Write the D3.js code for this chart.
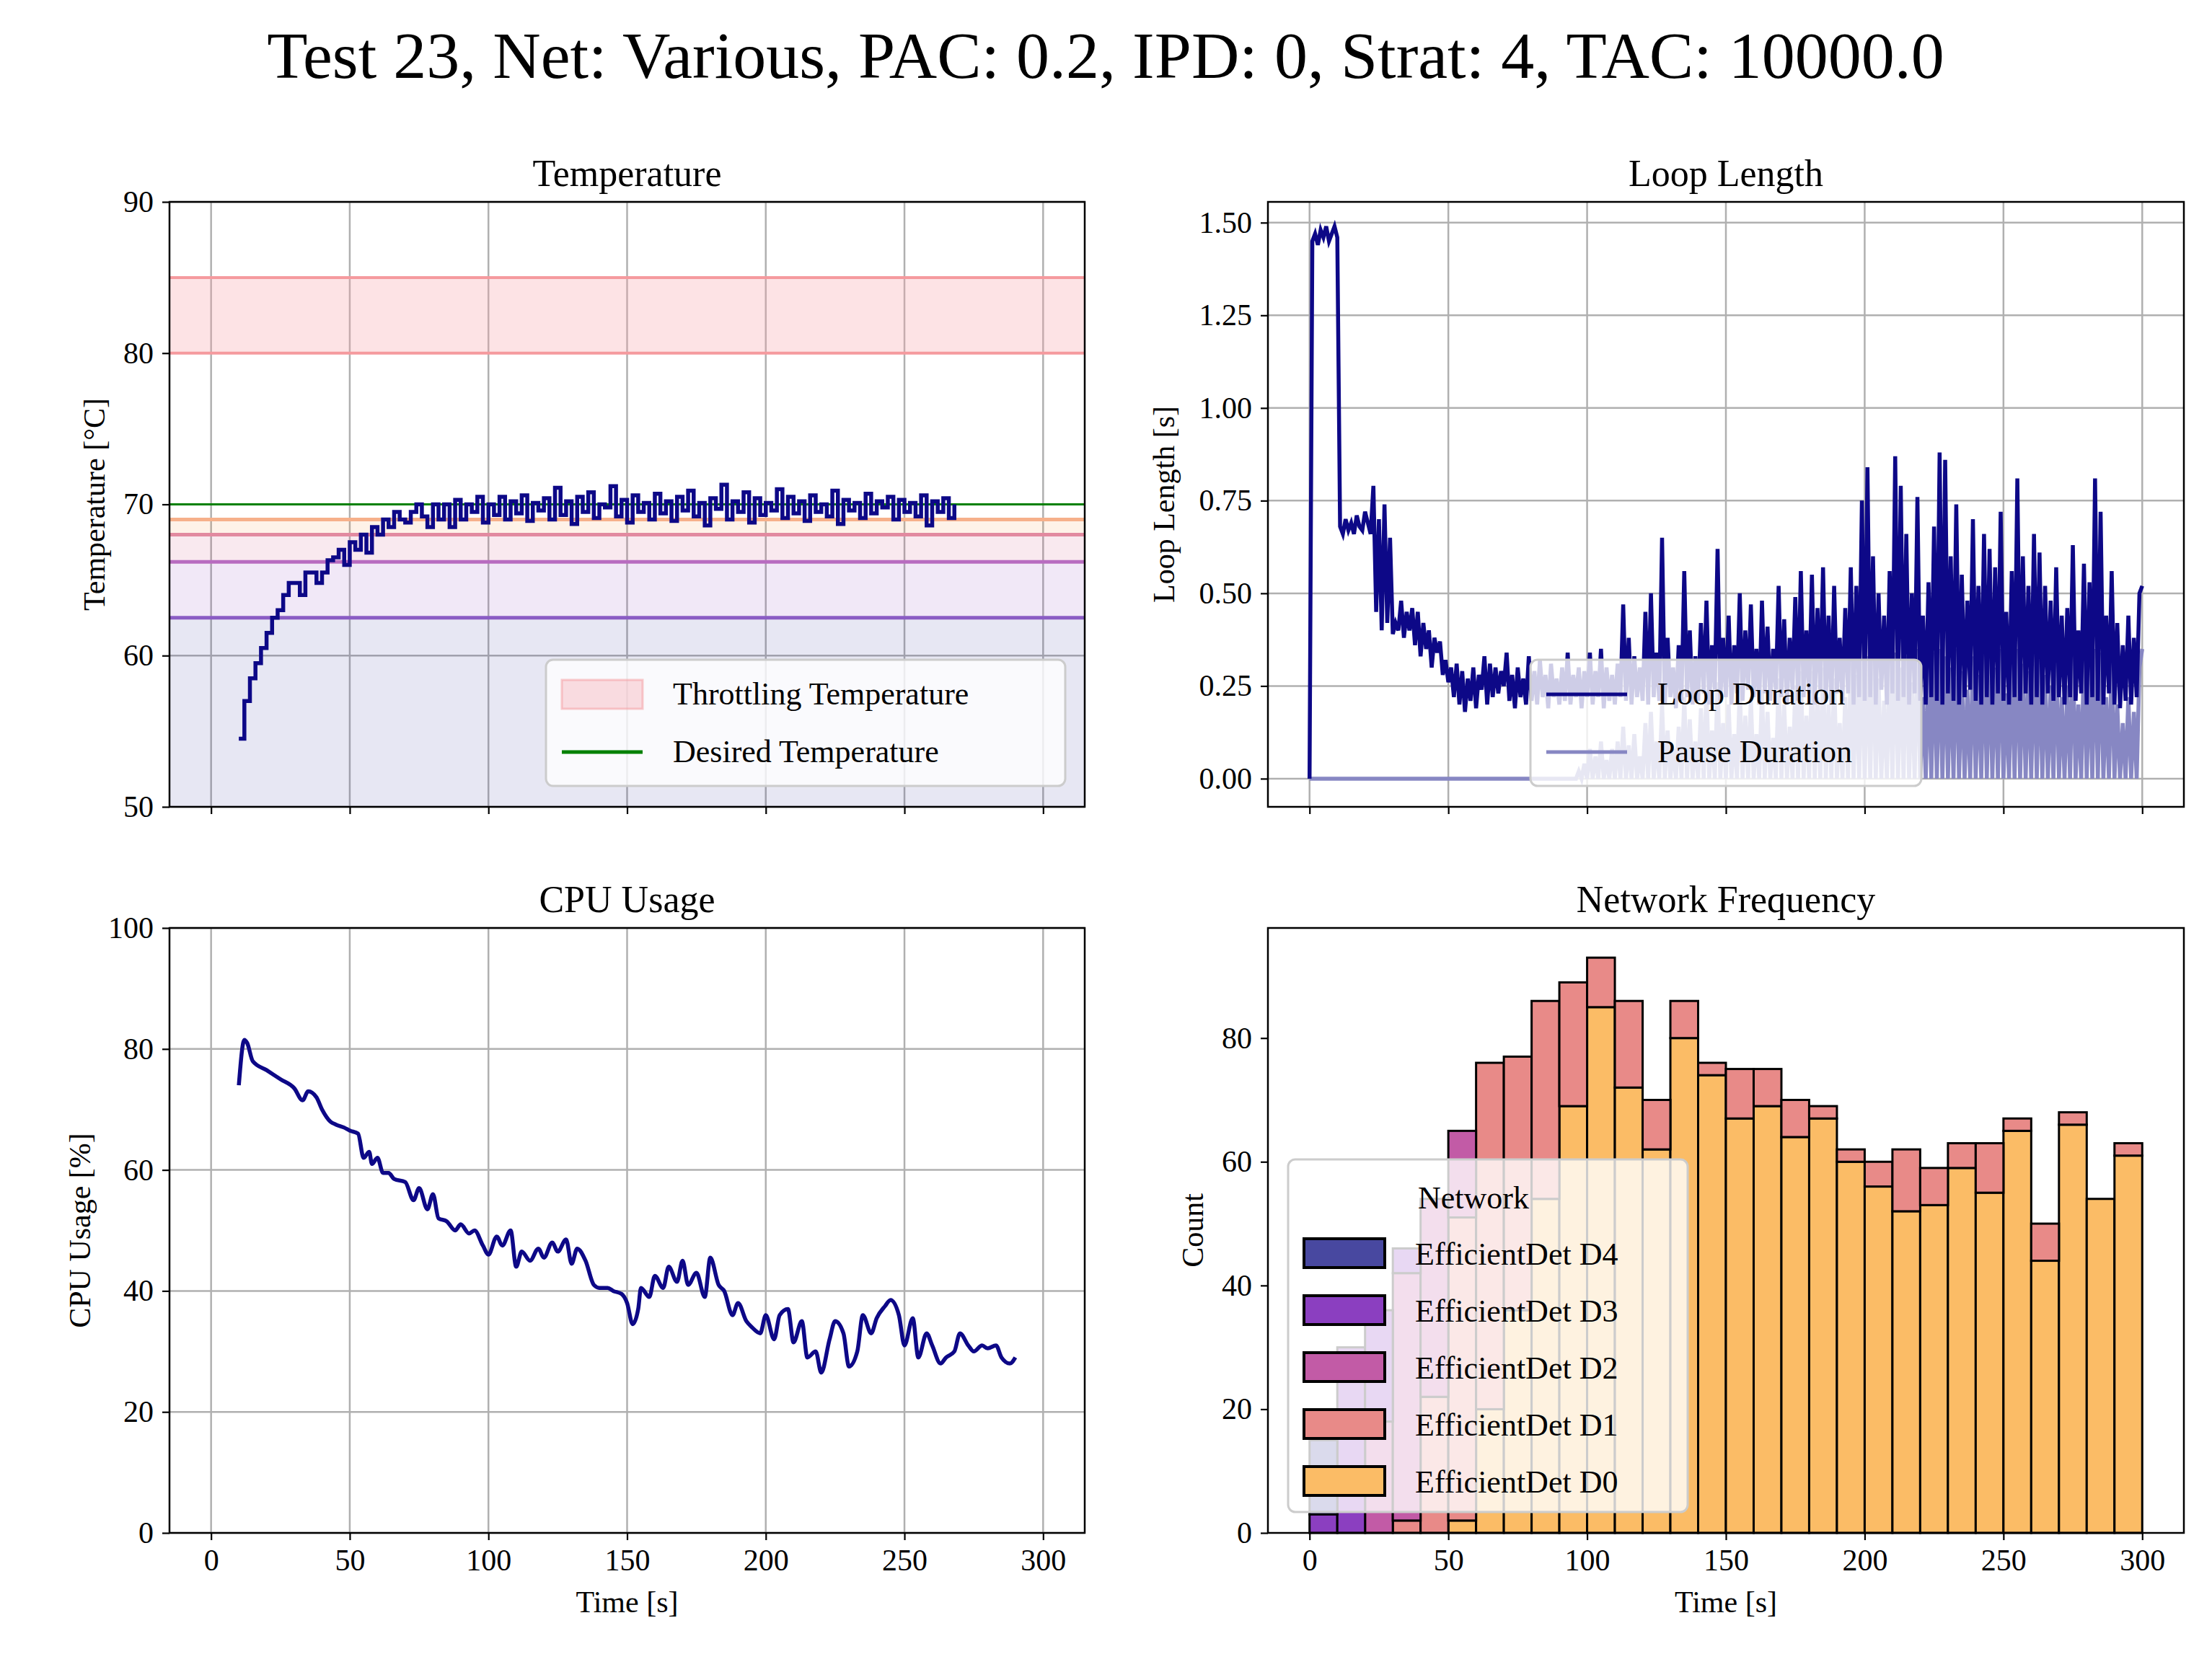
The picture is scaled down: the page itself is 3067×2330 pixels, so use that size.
<!DOCTYPE html>
<html><head><meta charset="utf-8">
<script src="https://cdn.jsdelivr.net/npm/d3@7.8.5/dist/d3.min.js"></script>
<style>body{margin:0;background:#fff}text{font-family:"Liberation Serif","DejaVu Serif",serif}</style>
</head><body><svg id="chart" width="3067" height="2330"></svg>
<script>
const tempTime0 = 10, tempStep = 2;
const tempValues = [54.5,57,58.5,59.5,60.5,61.5,62.5,63,64,64.8,64.8,64,65.5,65.5,64.8,65.5,66.3,66.5,67,66,67.5,67,68,66.8,68.5,68,69,68.5,69.5,69,68.8,69.5,70,69.2,68.5,70,69,70,68.5,70.3,69,70,69.5,70.5,68.8,70,69.3,70.5,69,70.2,
69.4,70.6,68.9,70.1,69.6,70.4,69,71.1,69.3,70.2,68.7,70.5,69.5,70.8,69.1,70,69.8,71.2,69.2,70.3,68.8,70.6,69.5,70.1,69,70.7,69.4,70.2,68.9,70.5,69.6,70.9,69.2,70.1,68.6,70.4,69.7,71.3,69,70.2,69.5,70.8,68.8,70.4,69.3,70.1,69.6,71,69.1,70.5,
69.4,70.2,68.9,70.6,69.5,70,69.2,70.9,68.7,70.3,69.6,70.1,69.1,70.7,69.4,70.2,69.8,70.5,69,70.3,69.5,70.1,69.2,70.6,68.6,70.2,69.5,70.4,69.1,70];
const loopTime0 = 0;
const loopValues = [0,1.45,1.47,1.44,1.48,1.46,1.49,1.45,1.47,1.49,1.46,
0.68,0.66,0.70,0.67,0.69,0.66,0.71,0.68,0.67,0.72,
0.69,0.66,0.79,0.45,0.70,0.40,0.74,0.42,0.65,0.39,
0.42,0.40,0.48,0.38,0.45,0.40,0.46,0.36,0.45,0.33,
0.42,0.35,0.40,0.30,0.38,0.34,0.37,0.28,0.32,0.26,
0.30,0.22,0.31,0.20,0.29,0.18,0.27,0.21,0.30,0.19,
0.28,0.24,0.33,0.20,0.31,0.22,0.30,0.23,0.29,0.25,
0.34,0.21,0.28,0.19,0.30,0.22,0.27,0.20,0.33,0.21,
0.29,0.20,0.32,0.22,0.28,0.19,0.31,0.22,0.27,0.20,
0.30,0.21,0.34,0.20,0.28,0.22,0.30,0.19,0.29,0.22,
0.34,0.20,0.29,0.22,0.35,0.19,0.30,0.21,0.28,0.20,
0.31,0.22,0.47,0.21,0.38,0.20,0.33,0.22,0.30,0.21,
0.45,0.20,0.50,0.22,0.34,0.21,0.65,0.20,0.38,0.22,
0.30,0.19,0.36,0.21,0.56,0.22,0.40,0.20,0.33,0.21,
0.42,0.23,0.48,0.20,0.36,0.24,0.62,0.21,0.38,0.22,
0.44,0.20,0.36,0.23,0.50,0.21,0.40,0.24,0.47,0.22,
0.35,0.20,0.48,0.23,0.41,0.21,0.35,0.24,0.52,0.22,
0.43,0.20,0.38,0.24,0.49,0.21,0.56,0.22,0.40,0.23,
0.55,0.20,0.46,0.24,0.57,0.21,0.44,0.20,0.52,0.23,
0.38,0.21,0.46,0.23,0.57,0.20,0.52,0.22,0.75,0.21,
0.84,0.22,0.60,0.20,0.50,0.24,0.44,0.20,0.56,0.23,
0.87,0.21,0.79,0.22,0.66,0.20,0.50,0.23,0.76,0.21,
0.44,0.20,0.53,0.22,0.68,0.21,0.88,0.20,0.86,0.23,
0.60,0.21,0.74,0.20,0.55,0.22,0.48,0.24,0.70,0.21,
0.52,0.20,0.66,0.22,0.62,0.20,0.57,0.23,0.72,0.21,
0.45,0.20,0.56,0.22,0.81,0.21,0.60,0.23,0.52,0.20,
0.66,0.22,0.61,0.20,0.52,0.23,0.48,0.21,0.57,0.22,
0.44,0.20,0.46,0.22,0.63,0.21,0.40,0.23,0.58,0.20,
0.53,0.22,0.81,0.21,0.72,0.20,0.44,0.23,0.56,0.20,
0.42,0.19,0.36,0.21,0.44,0.20,0.38,0.22,0.50,0.52];
const pauseValues = [0,0,0,0,0,0,0,0,0,0,0,0,0,0,0,0,0,0,0,0,0,0,0,0,0,0,0,0,0,0,0,0,0,0,0,0,0,0,0,0,0,0,0,0,0,0,0,0,0,0,
0,0,0,0,0,0,0,0,0,0,0,0,0,0,0,0,0,0,0,0,0,0,0,0,0,0,0,0,0,0,0,0,0,0,0,0,0,0,0,0,0,0,0,0,0,0,
0,0.02,0,0.04,0,
0.08,0,0.06,0,0.10,0,0.05,0,0.08,0,
0.10,0,0.14,0,0.09,0,0.12,0,0.06,0,
0.15,0,0.18,0,0.10,0,0.20,0,0.13,0,
0.08,0,0.14,0,0.22,0,0.16,0,0.10,0,
0.19,0,0.24,0,0.13,0,0.26,0,0.15,0,
0.20,0,0.12,0,0.25,0,0.17,0,0.22,0,
0.12,0,0.24,0,0.18,0,0.11,0,0.27,0,
0.20,0,0.14,0,0.25,0,0.29,0,0.17,0,
0.29,0,0.22,0,0.30,0,0.20,0,0.27,0,
0.15,0,0.22,0,0.31,0,0.28,0,0.32,0,
0.33,0,0.35,0,0.27,0,0.21,0,0.31,0,
0.34,0,0.30,0,0.33,0,0.26,0,0.35,0,
0.22,0,0.31,0,0.34,0,0.35,0,0.33,0,
0.30,0,0.35,0,0.29,0,0.24,0,0.33,0,
0.28,0,0.34,0,0.33,0,0.30,0,0.35,0,
0.23,0,0.33,0,0.35,0,0.31,0,0.29,0,
0.34,0,0.32,0,0.28,0,0.25,0,0.33,0,
0.22,0,0.25,0,0.34,0,0.20,0,0.33,0,
0.30,0,0.35,0,0.34,0,0.22,0,0.32,0,
0.20,0,0.15,0,0.22,0,0.18,0,0.30,0.35];
const cpuTimes = [10,12,13,15,20,25,30,33,35,38,40,43,45,48,50,53,55,57,58,60,62,64,66,70,73,75,78,80,82,85,88,90,93,95,98,100,103,105,108,110,112,115,118,120,123,125,128,130,132,135,138,140,143,145,148,150,152,154,155,158,160,163,165,168,170,172,175,178,180,183,185,188,190,193,195,198,200,203,205,208,210,213,215,218,220,223,225,228,230,233,235,238,240,243,245,248,250,253,255,258,260,263,265,268,270,273,275,278,280,283,285,288,290];
const cpuValues = [74,81.5,81,78,76.5,75,73.5,71.5,73,72,70,68,67.5,67,66.5,66,62,63,61,62,59.5,59.5,58.5,58,55,57,53.5,56,52,51.5,50,51,49.5,50,47.5,46,49,47.5,50,44,46.5,45,47,45.5,48,46.5,48.5,44.5,47,45,41,40.5,40.5,40,39.5,38,34.5,37,40.5,39,42.5,40.5,44,41.5,45,41,43,39,45.5,41,40,36,38,35,34,33,36,32,36,37,31.5,35,29,30,26.5,32,35,33,27.5,30,36,33,35.5,37.5,38.5,36,31,35.5,29,33,31,28,29,30,33,31,30,31,30.5,31,29,28,29,25.5];
const histBins = [0,10,20,30,40,50,60,70,80,90,100,110,120,130,140,150,160,170,180,190,200,210,220,230,240,250,260,270,280,290];
const d0 = [0,0,0,0,0,2,20,36,54,69,85,72,62,80,74,67,69,64,67,60,56,52,53,59,55,65,44,66,54,61];
const d1 = [0,0,0,2,22,49,56,41,32,20,8,14,8,6,2,8,6,6,2,2,4,10,6,4,8,2,6,2,0,2];
const d2 = [0,0,18,40,32,14,0,0,0,0,0,0,0,0,0,0,0,0,0,0,0,0,0,0,0,0,0,0,0,0];
const d3v = [3,30,18,4,0,0,0,0,0,0,0,0,0,0,0,0,0,0,0,0,0,0,0,0,0,0,0,0,0,0];
const d4 = [12,0,0,0,0,0,0,0,0,0,0,0,0,0,0,0,0,0,0,0,0,0,0,0,0,0,0,0,0,0];
const networkNames = ["EfficientDet D4","EfficientDet D3","EfficientDet D2","EfficientDet D1","EfficientDet D0"];
const xTicks = [0,50,100,150,200,250,300];
const tempBands = [62.5,66.2,68,69];

const svg = d3.select("#chart");
const NAVY = "#0d0887";
const FS = 42;
const L = [235,1504], R = [1758,3028], T = [280,1119], B = [1287,2126];

function panel(xr, yr, ydom, yticks, title, ylabel, xlabel, grid, yfmt, labOff){
  const x = d3.scaleLinear().domain([-15,315]).range(xr);
  const y = d3.scaleLinear().domain(ydom).range([yr[1],yr[0]]);
  const g = svg.append("g");
  const gg = g.append("g");
  if(grid){
    gg.selectAll(".vx").data(xTicks).join("line").attr("x1",d=>x(d)).attr("x2",d=>x(d)).attr("y1",yr[0]).attr("y2",yr[1]).attr("stroke","#b0b0b0").attr("stroke-width",2.5);
    gg.selectAll(".hy").data(yticks).join("line").attr("y1",d=>y(d)).attr("y2",d=>y(d)).attr("x1",xr[0]).attr("x2",xr[1]).attr("stroke","#b0b0b0").attr("stroke-width",2.5);
  }
  const body = g.append("g");
  const ax = g.append("g");
  ax.append("g").attr("transform",`translate(0,${yr[1]})`).call(d3.axisBottom(x).tickValues(xTicks).tickSize(10).tickPadding(12).tickFormat(xlabel?d3.format("d"):""));
  ax.append("g").attr("transform",`translate(${xr[0]},0)`).call(d3.axisLeft(y).tickValues(yticks).tickSize(10).tickPadding(12).tickFormat(yfmt));
  ax.selectAll(".domain").remove();
  ax.selectAll(".tick line").attr("stroke","#000").attr("stroke-width",2.2);
  ax.selectAll(".tick text").attr("font-size",FS).attr("font-family","Liberation Serif").attr("fill","#000");
  g.append("rect").attr("x",xr[0]).attr("y",yr[0]).attr("width",xr[1]-xr[0]).attr("height",yr[1]-yr[0]).attr("fill","none").attr("stroke","#000").attr("stroke-width",2.5);
  g.append("text").attr("x",(xr[0]+xr[1])/2).attr("y",yr[0]-22).attr("text-anchor","middle").attr("font-size",52).text(title);
  g.append("text").attr("transform",`translate(${xr[0]-labOff},${(yr[0]+yr[1])/2}) rotate(-90)`).attr("text-anchor","middle").attr("font-size",FS).text(ylabel);
  if(xlabel) g.append("text").attr("x",(xr[0]+xr[1])/2).attr("y",yr[1]+110).attr("text-anchor","middle").attr("font-size",FS).text(xlabel);
  return {x,y,body,g};
}

svg.append("text").attr("x",1533).attr("y",108).attr("text-anchor","middle").attr("font-size",92).text("Test 23, Net: Various, PAC: 0.2, IPD: 0, Strat: 4, TAC: 10000.0");

const tp = panel(L,T,[50,90],[50,60,70,80,90],"Temperature","Temperature [°C]",null,true,d3.format("d"),90);
{
  const {x,y,body} = tp;
  const bandColors = ["#8a5cc4","#b86cc0","#e28aa0","#f6b08a"];
  const fillColors = ["#3a3a9a","#8b3fc0","#cc4778","#f89540"];
  const lows = [50].concat(tempBands.slice(0,3));
  tempBands.forEach((b,i)=>{
    body.append("rect").attr("x",x(-15)).attr("width",x(315)-x(-15)).attr("y",y(b)).attr("height",y(lows[i])-y(b)).attr("fill",fillColors[i]).attr("opacity",0.12);
  });
  body.append("rect").attr("x",x(-15)).attr("width",x(315)-x(-15)).attr("y",y(85)).attr("height",y(80)-y(85)).attr("fill","#f7a1a8").attr("opacity",0.3);
  [80,85].forEach(v=>body.append("line").attr("x1",x(-15)).attr("x2",x(315)).attr("y1",y(v)).attr("y2",y(v)).attr("stroke","#f59a9e").attr("stroke-width",4));
  tempBands.forEach((b,i)=>body.append("line").attr("x1",x(-15)).attr("x2",x(315)).attr("y1",y(b)).attr("y2",y(b)).attr("stroke",bandColors[i]).attr("stroke-width",5));
  body.append("line").attr("x1",x(-15)).attr("x2",x(315)).attr("y1",y(70)).attr("y2",y(70)).attr("stroke","#008000").attr("stroke-width",3);
  const pts = tempValues.map((v,i)=>[tempTime0+i*tempStep,v]);
  body.append("path").datum(pts).attr("d",d3.line().x(d=>x(d[0])).y(d=>y(d[1])).curve(d3.curveStepAfter)).attr("fill","none").attr("stroke",NAVY).attr("stroke-width",5.5);
  const lg = tp.g.append("g").attr("transform","translate(757,915)");
  lg.append("rect").attr("width",720).attr("height",175).attr("rx",10).attr("fill","#fff").attr("fill-opacity",0.8).attr("stroke","#ccc").attr("stroke-width",3);
  lg.append("rect").attr("x",22).attr("y",28).attr("width",112).attr("height",40).attr("fill","#f7a1a8").attr("fill-opacity",0.35).attr("stroke","#f59a9e").attr("stroke-opacity",0.5).attr("stroke-width",3);
  lg.append("line").attr("x1",22).attr("x2",134).attr("y1",128).attr("y2",128).attr("stroke","#008000").attr("stroke-width",5);
  lg.append("text").attr("x",176).attr("y",62).attr("font-size",FS+2).text("Throttling Temperature");
  lg.append("text").attr("x",176).attr("y",142).attr("font-size",FS+2).text("Desired Temperature");
}

const lp = panel(R,T,[-0.076,1.556],[0,0.25,0.5,0.75,1,1.25,1.5],"Loop Length","Loop Length [s]",null,true,d3.format(".2f"),130);
{
  const {x,y,body} = lp;
  const ln = d3.line().x(d=>x(d[0])).y(d=>y(d[1]));
  body.append("path").datum(pauseValues.map((v,i)=>[loopTime0+i,v])).attr("d",ln).attr("fill","none").attr("stroke","#8787c3").attr("stroke-width",5.5);
  body.append("path").datum(loopValues.map((v,i)=>[loopTime0+i,v])).attr("d",ln).attr("fill","none").attr("stroke",NAVY).attr("stroke-width",5.5);
  const lg = lp.g.append("g").attr("transform","translate(2122,915)");
  lg.append("rect").attr("width",542).attr("height",175).attr("rx",10).attr("fill","#fff").attr("fill-opacity",0.8).attr("stroke","#ccc").attr("stroke-width",3);
  lg.append("line").attr("x1",22).attr("x2",134).attr("y1",48).attr("y2",48).attr("stroke",NAVY).attr("stroke-width",5);
  lg.append("line").attr("x1",22).attr("x2",134).attr("y1",128).attr("y2",128).attr("stroke","#8787c3").attr("stroke-width",5);
  lg.append("text").attr("x",176).attr("y",62).attr("font-size",FS+2).text("Loop Duration");
  lg.append("text").attr("x",176).attr("y",142).attr("font-size",FS+2).text("Pause Duration");
}

const cp = panel(L,B,[0,100],[0,20,40,60,80,100],"CPU Usage","CPU Usage [%]","Time [s]",true,d3.format("d"),110);
{
  const {x,y,body} = cp;
  body.append("path").datum(cpuTimes.map((t,i)=>[t,cpuValues[i]])).attr("d",d3.line().x(d=>x(d[0])).y(d=>y(d[1])).curve(d3.curveMonotoneX)).attr("fill","none").attr("stroke",NAVY).attr("stroke-width",5.5);
}

const np = panel(R,B,[0,97.8],[0,20,40,60,80],"Network Frequency","Count","Time [s]",false,d3.format("d"),90);
{
  const {x,y,body} = np;
  const cols = ["#fbbc66","#e88a88","#c25ba6","#8b3fc0","#4848a0"];
  const rows = histBins.map((b,i)=>({b,d0:d0[i],d1:d1[i],d2:d2[i],d3:d3v[i],d4:d4[i]}));
  const st = d3.stack().keys(["d0","d1","d2","d3","d4"])(rows);
  st.forEach((s,k)=>{
    body.selectAll(null).data(s.filter(d=>d[1]>d[0])).join("rect")
      .attr("x",d=>x(d.data.b)).attr("width",x(10)-x(0)).attr("y",d=>y(d[1])).attr("height",d=>y(d[0])-y(d[1]))
      .attr("fill",cols[k]).attr("stroke","#000").attr("stroke-width",3);
  });
  const lg = np.g.append("g").attr("transform","translate(1786,1608)");
  lg.append("rect").attr("width",554).attr("height",489).attr("rx",10).attr("fill","#fff").attr("fill-opacity",0.8).attr("stroke","#ccc").attr("stroke-width",3);
  lg.append("text").attr("x",180).attr("y",68).attr("font-size",FS+2).text("Network");
  networkNames.forEach((n,i)=>{
    const yy = 110+i*79;
    lg.append("rect").attr("x",22).attr("y",yy).attr("width",112).attr("height",40).attr("fill",cols[4-i]).attr("stroke","#000").attr("stroke-width",4);
    lg.append("text").attr("x",176).attr("y",yy+36).attr("font-size",FS+2).text(n);
  });
}
</script></body></html>
